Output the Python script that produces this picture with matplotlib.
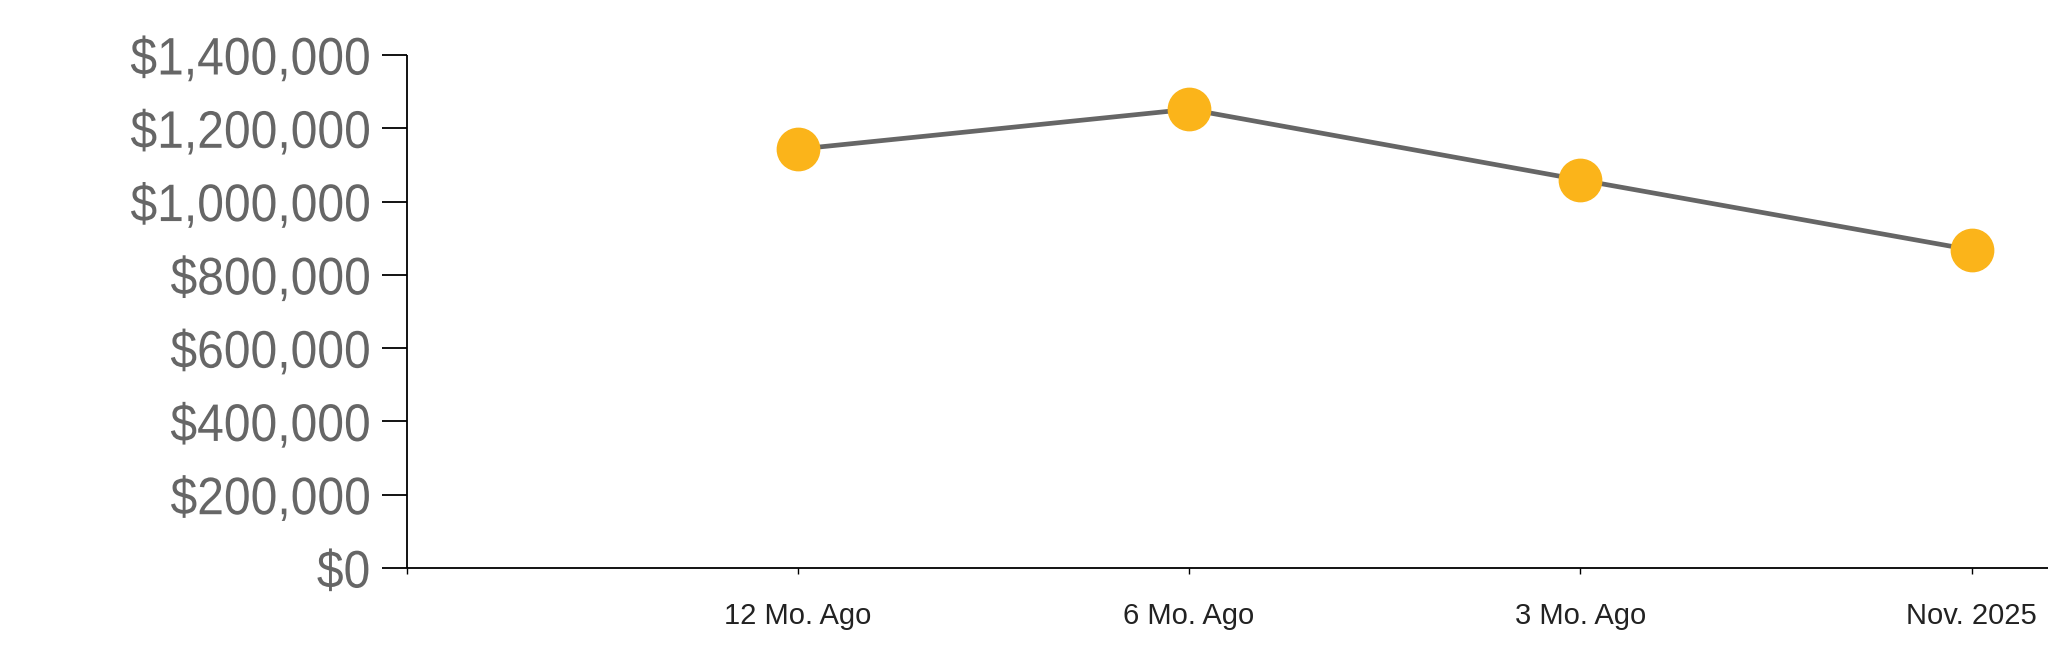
import matplotlib
matplotlib.use("Agg")
import matplotlib.pyplot as plt
from matplotlib.ticker import FuncFormatter
from matplotlib.patheffects import AbstractPathEffect
from matplotlib.transforms import Affine2D

categories = ["12 Mo. Ago", "6 Mo. Ago", "3 Mo. Ago", "Nov. 2025"]
values = [1143000, 1252000, 1059000, 868000]
y_ticks = [0, 200000, 400000, 600000, 800000, 1000000, 1200000, 1400000]

plt.rcParams['font.family'] = ['Liberation Sans', 'DejaVu Sans']


class HStretch(AbstractPathEffect):
    """Narrow text glyphs horizontally, keeping the right edge fixed."""
    def __init__(self, sx):
        super().__init__()
        self.sx = sx

    def draw_path(self, renderer, gc, tpath, affine, rgbFace=None):
        xmax = tpath.get_extents().x1
        t = Affine2D().translate(-xmax, 0).scale(self.sx, 1).translate(xmax, 0)
        renderer.draw_path(gc, tpath, t + affine, rgbFace)


W, H, DPI = 2048, 663, 100
fig = plt.figure(figsize=(W / DPI, H / DPI), dpi=DPI)
left, right, top, bottom = 406.5, 2048, 55, 568
ax = fig.add_axes([left / W, (H - bottom) / H, (right - left) / W, (bottom - top) / H])

xs = list(range(1, len(categories) + 1))
ax.plot(xs, values, color="#666666", lw=3.4, zorder=2, solid_capstyle="butt")
ax.plot(xs, values, ls="none", marker="o", ms=30.5, color="#FBB41A", mec="#FBB41A", zorder=3)

ax.set_xlim(0, (right - left) / 391.3)
ax.set_ylim(0, 1400000)
ax.set_yticks(y_ticks)
ax.yaxis.set_major_formatter(FuncFormatter(lambda v, p: "${:,.0f}".format(v)))
ax.set_xticks([0] + xs)
ax.set_xticklabels([""] + categories)

for s in ["top", "right"]:
    ax.spines[s].set_visible(False)
for s in ["left", "bottom"]:
    ax.spines[s].set_color("black")
    ax.spines[s].set_linewidth(1.3)
    ax.spines[s].set_capstyle("butt")

ax.tick_params(axis="y", direction="out", length=18, width=1.3, color="black",
               labelsize=38, labelcolor="#666666", pad=8)
ax.tick_params(axis="x", direction="out", length=4, width=1.0, color="black",
               labelsize=21, labelcolor="#222222", pad=20.5)

for lbl in ax.get_yticklabels():
    lbl.set_path_effects([HStretch(0.91)])

fig.savefig("out.png", dpi=DPI, facecolor="white")
